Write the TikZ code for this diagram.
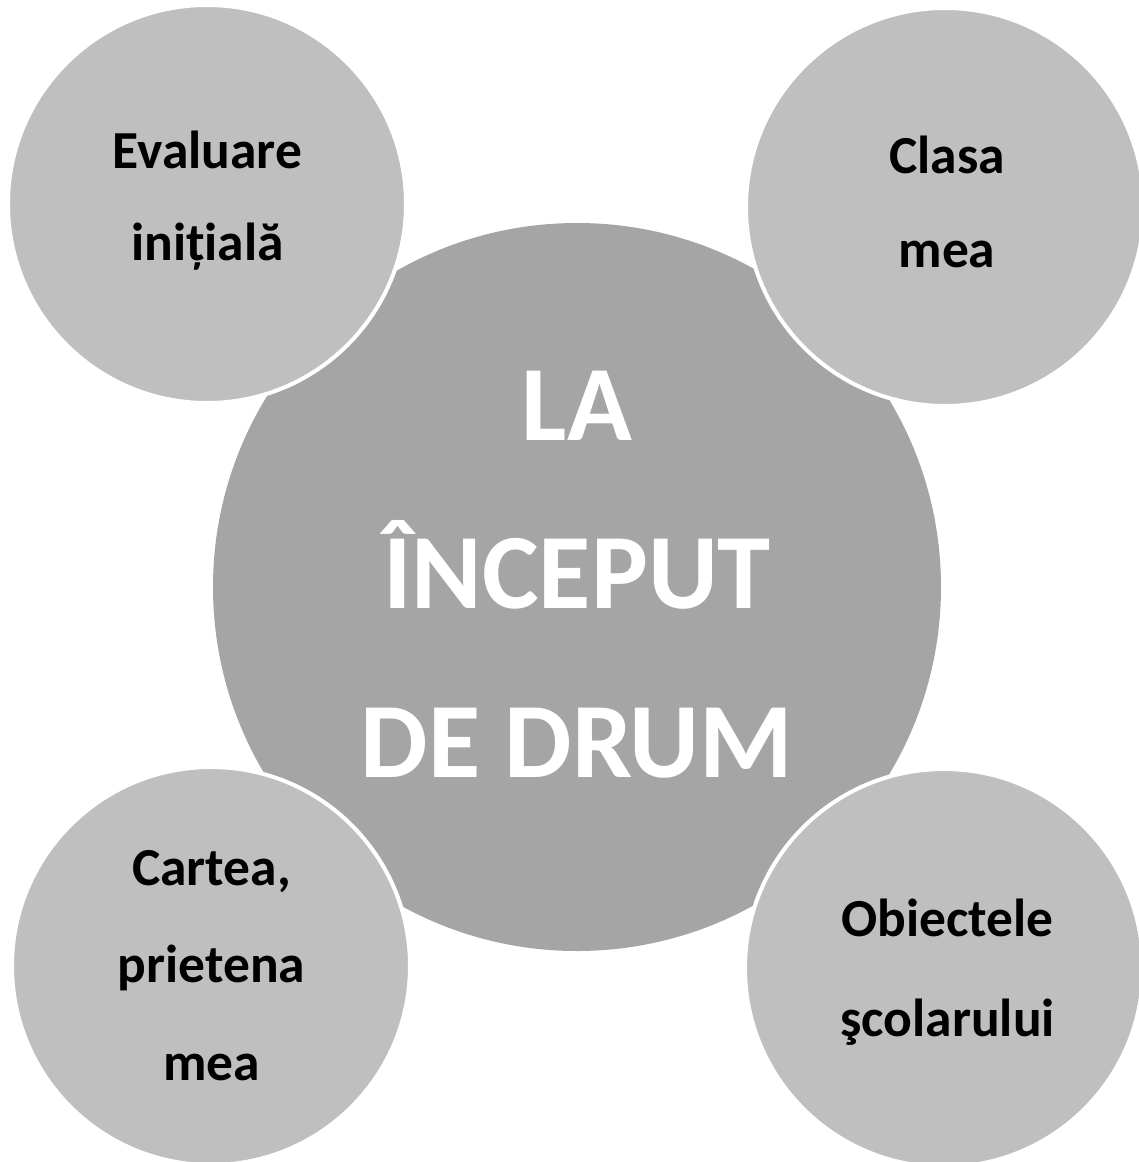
\documentclass[tikz,border=0pt]{standalone}
\usepackage{fontspec}
\setmainfont{Carlito}
\usetikzlibrary{positioning}
\definecolor{hubgray}{HTML}{A5A5A5}
\definecolor{leafgray}{HTML}{BFBFBF}

\begin{document}
\begin{tikzpicture}[
        x=1pt, y=-1pt,
        hub/.style={circle, fill=hubgray, inner sep=0pt, outer sep=0pt, minimum size=728pt},
        leaf/.style={circle, fill=leafgray, draw=white, line width=4pt, inner sep=0pt, outer sep=0pt, minimum size=398pt},
        hubtext/.style={align=center, inner sep=0pt, text=white, font=\bfseries\fontsize{107}{168.5}\selectfont},
        leaftext/.style={align=center, inner sep=0pt, text=black, font=\bfseries\fontsize{53.5}{#1}\selectfont}
    ]
        \useasboundingbox (0,0) rectangle (1139,1162);

        \node[hub] (start) at (577,587) {};
        \node[leaf] (eval) at (207,204) {};
        \node[leaf] (clasa) at (945,207) {};
        \node[leaf] (carte) at (211,966) {};
        \node[leaf] (obiecte) at (944,968) {};

        \node[hubtext] (startlbl) at (577,574.5) {LA\\ÎNCEPUT\\DE DRUM};
        \node[leaftext=92] (evallbl) at (207.5,201) {Evaluare\\inițială};
        \node[leaftext=94] (clasalbl) at (947,202) {Clasa\\mea};
        \node[leaftext=97.5] (cartelbl) at (211.5,965.5) {Cartea,\\prietena\\mea};
        \node[leaftext=100] (obiectelbl) at (947.5,972) {Obiectele\\şcolarului};
    \end{tikzpicture}
\end{document}
